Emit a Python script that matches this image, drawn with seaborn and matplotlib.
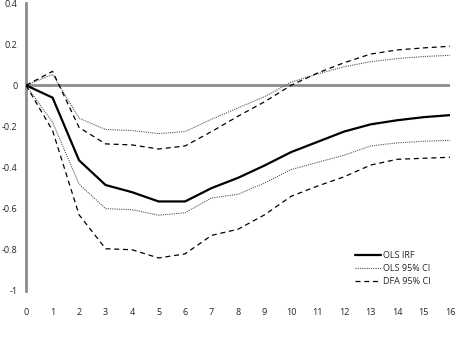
import numpy as np
import pandas as pd
import matplotlib
matplotlib.use("Agg")
import matplotlib.pyplot as plt
import seaborn as sns

# ---------------------------------
# Data
# ---------------------------------

horizon = list(range(17))

ols_irf = [0, -0.06, -0.365, -0.485, -0.52, -0.565, -0.565, -0.50, -0.45, -0.39,
           -0.325, -0.275, -0.225, -0.19, -0.17, -0.155, -0.145]

ols_ci_upper = [0, 0.053, -0.16, -0.215, -0.22, -0.235, -0.225, -0.165, -0.11, -0.055,
                0.015, 0.055, 0.09, 0.115, 0.13, 0.14, 0.146]
ols_ci_lower = [0, -0.18, -0.48, -0.60, -0.605, -0.632, -0.62, -0.548, -0.53, -0.475,
                -0.41, -0.375, -0.34, -0.295, -0.28, -0.272, -0.268]

dfa_ci_upper = [0, 0.068, -0.205, -0.285, -0.29, -0.31, -0.295, -0.225, -0.15, -0.08,
                0.0, 0.06, 0.11, 0.152, 0.172, 0.182, 0.19]
dfa_ci_lower = [0, -0.22, -0.63, -0.795, -0.80, -0.84, -0.82, -0.73, -0.70, -0.63,
                -0.54, -0.49, -0.445, -0.388, -0.36, -0.355, -0.35]

y_ticks = [0.4, 0.2, 0, -0.2, -0.4, -0.6, -0.8, -1]
y_tick_labels = ["0.4", "0.2", "0", "-0.2", "-0.4", "-0.6", "-0.8", "-1"]

# ---------------------------------
# Plot
# ---------------------------------

sns.set_style("white")
plt.rcParams["font.family"] = ["Open Sans", "DejaVu Sans"]
plt.rcParams["axes.unicode_minus"] = False

fig = plt.figure(figsize=(4.57, 3.43), dpi=100)
ax = fig.add_axes([0.057, 0.152, 0.928, 0.839])

ax.axhline(0, color="#8c8c8c", lw=2, zorder=1)

sns.lineplot(x=horizon, y=ols_irf, ax=ax, color="black", lw=1.6,
             label="OLS IRF", zorder=3)
sns.lineplot(x=horizon, y=ols_ci_upper, ax=ax, color="#555555", lw=0.8,
             linestyle=(0, (1, 1)), label="OLS 95% CI", zorder=3)
sns.lineplot(x=horizon, y=ols_ci_lower, ax=ax, color="#555555", lw=0.8,
             linestyle=(0, (1, 1)), zorder=3)
sns.lineplot(x=horizon, y=dfa_ci_upper, ax=ax, color="black", lw=0.9,
             linestyle=(0, (4, 3)), label="DFA 95% CI", zorder=3)
sns.lineplot(x=horizon, y=dfa_ci_lower, ax=ax, color="black", lw=0.9,
             linestyle=(0, (4, 3)), zorder=3)

ax.set_xlim(0, 16)
ax.set_ylim(-1, 0.4)
ax.set_xticks(horizon)
ax.set_yticks(y_ticks)
ax.set_yticklabels(y_tick_labels)
ax.tick_params(axis="both", length=0, labelsize=6.5, colors="#222222")
ax.tick_params(axis="x", pad=12)
ax.tick_params(axis="y", pad=6)

for side in ["top", "right", "bottom"]:
    ax.spines[side].set_visible(False)
ax.spines["left"].set_color("#8c8c8c")
ax.spines["left"].set_linewidth(2)

ax.legend(loc="lower right", bbox_to_anchor=(0.97, -0.005), frameon=False,
          fontsize=6.5, handlelength=2.8, labelspacing=0.45, handletextpad=0.3,
          borderpad=0.2)

fig.savefig("out.png", dpi=100)
